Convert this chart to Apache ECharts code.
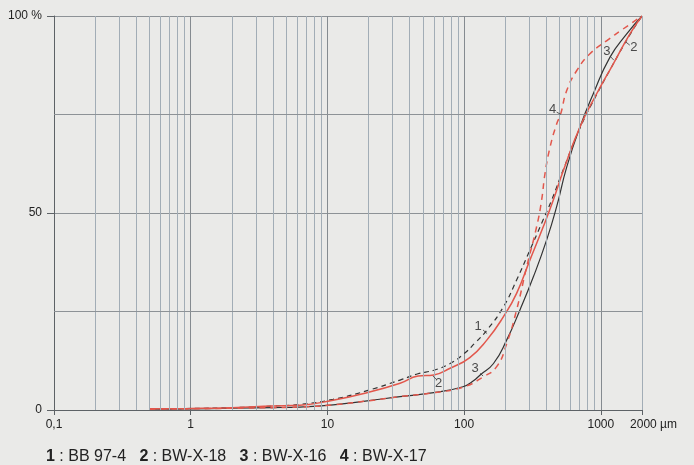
<!DOCTYPE html>
<html>
<head>
<meta charset="utf-8">
<script src="https://cdn.jsdelivr.net/npm/echarts@6/dist/echarts.min.js"></script>
<style>
html,body{margin:0;padding:0;background:#eaeae8;}
#c{width:694px;height:465px;}
</style>
</head>
<body>
<div id="c"></div>
<script>
// grain size (µm) vs cumulative percent
const s1_BB97_4 = [[0.5,0.3],[1,0.4],[2,0.6],[4,1.0],[6.3,1.4],[11,2.7],[19.5,4.9],[34,7.6],[46,9.2],[60,10.1],[79,11.8],[100,14.3],[120,17],[147,20.3],[194,26.2],[242,33],[303,40.6],[369,47.4],[437,53.3],[531,61],[703,71.5],[930,80],[1231,87.8],[1628,95.2],[2000,100]];
const s2_BWX18 = [[0.5,0.3],[1,0.4],[2,0.6],[4,1.0],[6.3,1.2],[11,2.5],[19.5,4.4],[34,6.8],[46,8.6],[60,8.9],[79,10.6],[110,13.3],[147,17.8],[194,23.7],[242,29.6],[303,38.1],[379,46.5],[449,53.3],[531,60.7],[703,71.8],[930,80.2],[1231,87.8],[1628,95.4],[2000,100]];
const s3_BWX16 = [[0.5,0.2],[1,0.3],[2,0.45],[4,0.6],[6.3,0.75],[11,1.3],[19.5,2.3],[34,3.4],[60,4.4],[98,5.9],[117,7.4],[131,8.9],[164,11.8],[205,17.8],[256,25.4],[321,33.8],[401,43.1],[475,51.6],[562,61.6],[703,71.8],[879,80.2],[1164,89.5],[1541,95.4],[2000,100]];
const s4_BWX17 = [[0.5,0.2],[1,0.3],[2,0.45],[4,0.6],[6.3,0.75],[11,1.3],[19.5,2.3],[34,3.4],[60,4.4],[98,5.8],[138,8.4],[173,11],[205,16.9],[242,25.4],[287,36.4],[339,46.5],[369,53.3],[390,59.9],[425,66.7],[475,72.6],[508,75.1],[562,81],[665,86.1],[832,90.4],[1101,93.7],[1455,96.7],[2000,100]];

const seriesNames = ['BB 97-4','BW-X-18','BW-X-16','BW-X-17'];
const xTickLabels = {0.1:'0,1',1:'1',10:'10',100:'100',1000:'1000',2000:'2000 µm'};
const yTickLabels = {0:'0',50:'50',100:'100 %'};

// minor log grid lines
const minorGrid = [];
[0.1,1,10,100,1000].forEach(d=>{for(let k=2;k<=9;k++){const v=d*k; if(v<=2000) minorGrid.push(+v.toPrecision(3));}});
minorGrid.push(2000);
const hGrid = [25,75];

// curve number annotations [x, y, text]
const annoText = [[126.5,21.1,'1'],[65.2,6.85,'2'],[120.3,10.6,'3'],[1106,90.9,'3'],[1741,92.1,'2'],[444,76.3,'4']];
const annoLeaders = [
  [[137.6,20.3],[147.2,19.4]],
  [[59.1,8.63],[62.5,7.79]],
  [[130.9,9.31],[137.6,8.63]],
  [[1183,89.6],[1244,88.8]],
  [[1522,93.4],[1628,92.6]],
  [[475,75.6],[508,75.05]]
];

const chart = echarts.init(document.getElementById('c'));
const black = '#333333', red = '#e2574c';
const font = 'Liberation Sans, Arial, sans-serif';

function xLabel(v){
  if (Math.abs(v-2000)<1) return '{u|2000 µm}';
  if (v<0.5) return '0,1';
  const r = Math.round(v);
  return xTickLabels[r] !== undefined ? xTickLabels[r] : '';
}

const sm = 0.5;
chart.setOption({
  animation:false,
  backgroundColor:'#eaeae8',
  textStyle:{fontFamily:font},
  title:{
    left:41, top:444,
    text:'{b|1} : BB 97-4   {b|2} : BW-X-18   {b|3} : BW-X-16   {b|4} : BW-X-17',
    textStyle:{fontSize:16,fontWeight:'normal',color:'#222',fontFamily:font,
      rich:{b:{fontSize:16,fontWeight:'bold',color:'#222',fontFamily:font}}}
  },
  grid:{left:54,right:52,top:16,bottom:55},
  xAxis:{
    type:'log', logBase:10, min:0.1, max:2000,
    axisLine:{show:true,lineStyle:{color:'#5d6266',width:1}},
    axisTick:{show:true,length:5,lineStyle:{color:'#5d6266'}},
    axisLabel:{fontSize:12,color:'#222',margin:9,formatter:xLabel,
      rich:{u:{fontSize:12,color:'#222',padding:[0,0,0,23]}}},
    splitLine:{show:true,lineStyle:{color:'#858b90',width:1}}
  },
  yAxis:{
    type:'value', min:0, max:100, interval:50,
    axisLine:{show:true,lineStyle:{color:'#5d6266',width:1}},
    axisTick:{show:true,length:7,lineStyle:{color:'#5d6266'}},
    axisLabel:{fontSize:12,color:'#222',margin:12,formatter:v=>yTickLabels[v]!==undefined?yTickLabels[v]:''},
    splitLine:{show:true,lineStyle:{color:'#8d9296',width:1}}
  },
  series:[
    {type:'scatter', name:'grid', z:1, symbolSize:0, data:[], silent:true,
      markLine:{silent:true, symbol:['none','none'], label:{show:false}, animation:false,
        lineStyle:{type:'solid', color:'#a2adb6', width:1},
        data: minorGrid.map(v=>({xAxis:v})).concat(hGrid.map(v=>({yAxis:v,lineStyle:{color:'#8d9296'}})))}
    },
    {type:'line', name:seriesNames[0], data:s1_BB97_4, z:3, smooth:sm, showSymbol:false,
      lineStyle:{color:black,width:1.2,type:[5,4]}},
    {type:'line', name:seriesNames[1], data:s2_BWX18, z:4, smooth:sm, showSymbol:false,
      lineStyle:{color:red,width:1.5}},
    {type:'line', name:seriesNames[2], data:s3_BWX16, z:3, smooth:sm, showSymbol:false,
      lineStyle:{color:black,width:1.2}},
    {type:'line', name:seriesNames[3], data:s4_BWX17, z:4, smooth:sm, showSymbol:false,
      lineStyle:{color:red,width:1.5,type:[6,5]}},
    {type:'scatter', name:'labels', z:5, symbolSize:1, itemStyle:{color:'rgba(0,0,0,0)'}, silent:true,
      data:annoText.map(a=>({value:[a[0],a[1]], label:{formatter:a[2]}})),
      label:{show:true, position:'inside', fontSize:13, color:'#222', fontFamily:font},
      markLine:{silent:true, symbol:['none','none'], label:{show:false}, animation:false,
        lineStyle:{type:'solid', color:'#333', width:0.8},
        data: annoLeaders.map(l=>[{coord:l[0]},{coord:l[1]}])}
    }
  ]
});
</script>
</body>
</html>
